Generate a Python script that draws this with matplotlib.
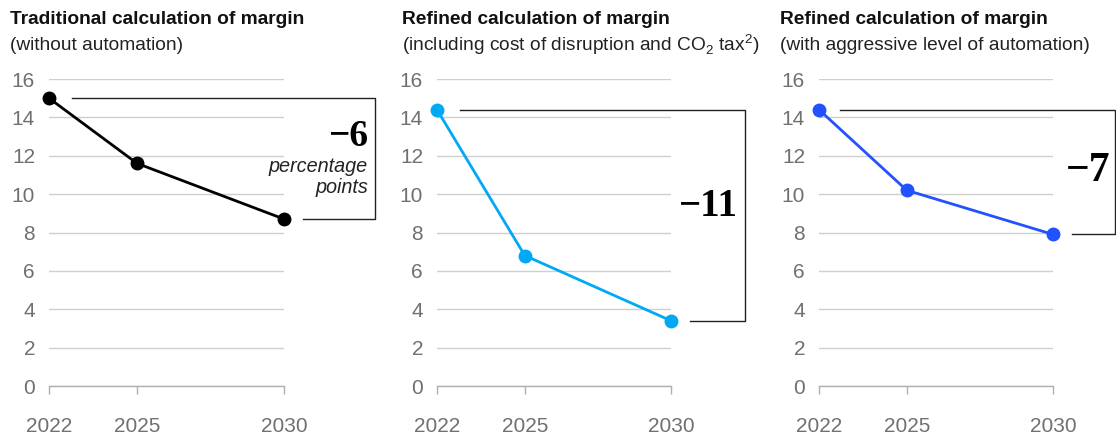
import matplotlib
matplotlib.use("Agg")
import matplotlib.pyplot as plt
import matplotlib.transforms as mtransforms

years = [2022, 2025, 2030]
traditional = [15.0, 11.6, 8.7]
refined_disruption = [14.4, 6.8, 3.4]
refined_automation = [14.4, 10.2, 7.9]
y_ticks = [0, 2, 4, 6, 8, 10, 12, 14, 16]

titles = ["Traditional calculation of margin",
          "Refined calculation of margin",
          "Refined calculation of margin"]
subtitles = ["(without automation)",
             "(including cost of disruption and CO$_2$ tax$^2$)",
             "(with aggressive level of automation)"]
deltas = ["\u22126", "\u221211", "\u22127"]
colors = ["#000000", "#00A9F4", "#2251FF"]
series = [traditional, refined_disruption, refined_automation]

plt.rcParams['font.family'] = ['Liberation Sans', 'DejaVu Sans']
plt.rcParams['mathtext.fontset'] = 'custom'
plt.rcParams['mathtext.rm'] = 'Liberation Sans'

W, H = 1116, 437
fig = plt.figure(figsize=(W / 100, H / 100), dpi=100)

# axes pixel layout: left, right, top(16), bottom(0)
ax_left = [49, 437, 819]
ax_right = [284, 671, 1053]
y_top, y_bot = 79, 386
title_x = [10, 402, 780]
bracket_x = [375, 745, 1115]
top_start = [72, 460, 840]
bot_start = [303, 690, 1072]
delta_pos = [(368, 137, 27), (738, 207, 28), (1110, 171, 30)]

for i in range(3):
    l, r = ax_left[i], ax_right[i]
    ax = fig.add_axes([l / W, 1 - y_bot / H, (r - l) / W, (y_bot - y_top) / H])
    ax.set_xlim(years[0], years[-1])
    ax.set_ylim(0, 16)
    for s in ["top", "right", "left"]:
        ax.spines[s].set_visible(False)
    ax.spines["bottom"].set_color("#b0b0b0")
    ax.spines["bottom"].set_linewidth(1.0)
    ax.set_yticks(y_ticks)
    ax.set_yticklabels([str(v) for v in y_ticks])
    ax.tick_params(axis="y", length=0, pad=10, labelsize=15, labelcolor="#707070")
    ax.set_xticks(years)
    ax.set_xticklabels([str(y) for y in years])
    ax.tick_params(axis="x", length=6, width=1, color="#b0b0b0", pad=16,
                   labelsize=15, labelcolor="#707070")
    ax.grid(axis="y", color="#cfcfcf", linewidth=1.0)
    ax.grid(axis="x", visible=False)
    ax.set_axisbelow(True)
    ax.plot(years, series[i], color=colors[i], linewidth=2.0, marker="o",
            markersize=9, clip_on=False, zorder=5)

    # bracket
    tr = mtransforms.blended_transform_factory(ax.transAxes, ax.transData)
    w = r - l
    fx = lambda px: (px - l) / w
    v0, v1 = series[i][0], series[i][-1]
    ax.plot([fx(top_start[i]), fx(bracket_x[i]), fx(bracket_x[i]), fx(bot_start[i])],
            [v0, v0, v1, v1], transform=tr, color="#222222", linewidth=1.0,
            clip_on=False)

    dx, dy, fs = delta_pos[i]
    fig.text(dx / W, 1 - dy / H, deltas[i], ha="right", va="center",
             fontsize=fs, fontweight="bold", family=["Liberation Serif", "DejaVu Serif"])
    if i == 0:
        fig.text(dx / W, 1 - 167 / H, "percentage", ha="right", va="center",
                 fontsize=14.3, style="italic", color="#222222")
        fig.text(dx / W, 1 - 187 / H, "points", ha="right", va="center",
                 fontsize=14.3, style="italic", color="#222222")

    fig.text(title_x[i] / W, 1 - 19 / H, titles[i], ha="left", va="center",
             fontsize=13.8, fontweight="bold", color="#111111")
    fig.text(title_x[i] / W, 1 - 45 / H, subtitles[i], ha="left", va="center",
             fontsize=13.8, color="#222222")

fig.savefig("out.png", dpi=100)
